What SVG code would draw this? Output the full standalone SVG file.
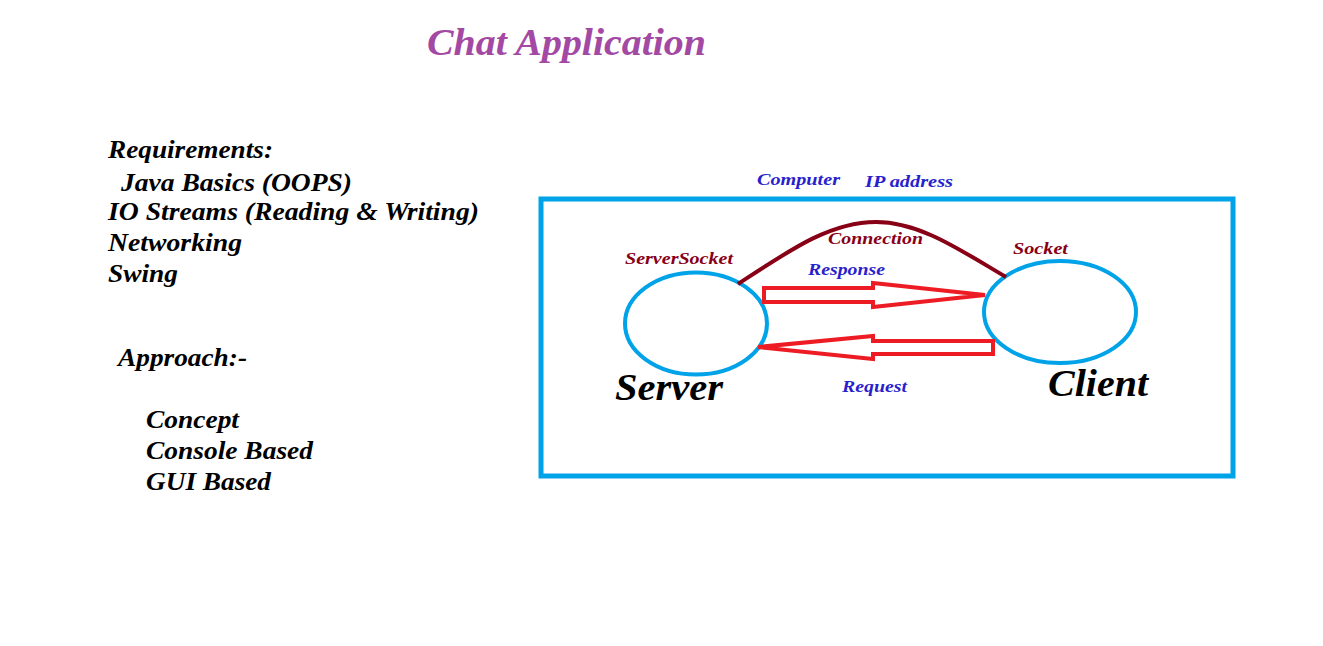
<svg xmlns="http://www.w3.org/2000/svg" width="1323" height="646" viewBox="0 0 1323 646">
<style>
text{font-family:"Liberation Serif","Times New Roman",serif;font-weight:bold;font-style:italic}
.t{fill:#000;font-size:25px}
.big{fill:#000;font-size:38px}
.red{fill:#880015;font-size:17px}
.blue{fill:#2a1fcc;font-size:17px}
.ell{fill:none;stroke:#00a2e8;stroke-width:4}
.arr{fill:none;stroke:#ed1c24;stroke-width:4;stroke-linejoin:miter}
</style>
<rect width="1323" height="646" fill="#fff"/>
<text x="427" y="55" style="fill:#a349a4;font-size:37px" textLength="279" lengthAdjust="spacingAndGlyphs">Chat Application</text>
<g id="requirements">
<text class="t" x="108" y="158" textLength="165" lengthAdjust="spacingAndGlyphs">Requirements:</text>
<text class="t" x="121" y="191" textLength="231" lengthAdjust="spacingAndGlyphs">Java Basics (OOPS)</text>
<text class="t" x="108" y="220" textLength="371" lengthAdjust="spacingAndGlyphs">IO Streams (Reading &amp; Writing)</text>
<text class="t" x="108" y="251" textLength="134" lengthAdjust="spacingAndGlyphs">Networking</text>
<text class="t" x="108" y="282" textLength="70" lengthAdjust="spacingAndGlyphs">Swing</text>
</g>
<g id="approach">
<text class="t" x="118" y="366" textLength="129" lengthAdjust="spacingAndGlyphs">Approach:-</text>
<text class="t" x="146" y="428" textLength="93" lengthAdjust="spacingAndGlyphs">Concept</text>
<text class="t" x="146" y="459" textLength="167" lengthAdjust="spacingAndGlyphs">Console Based</text>
<text class="t" x="146" y="490" textLength="125" lengthAdjust="spacingAndGlyphs">GUI Based</text>
</g>
<g id="computer">
<rect x="541" y="199" width="692" height="277" fill="none" stroke="#00a2e8" stroke-width="5"/>
<text class="blue" x="757" y="185" textLength="83" lengthAdjust="spacingAndGlyphs">Computer</text>
<text class="blue" x="865" y="187" textLength="88" lengthAdjust="spacingAndGlyphs">IP address</text>
</g>
<g id="server">
<ellipse class="ell" cx="696" cy="323.5" rx="71" ry="51"/>
<text class="red" x="625" y="264" textLength="108" lengthAdjust="spacingAndGlyphs">ServerSocket</text>
<text class="big" x="615" y="400" textLength="108" lengthAdjust="spacingAndGlyphs">Server</text>
</g>
<g id="client">
<ellipse class="ell" cx="1060" cy="312" rx="76" ry="51"/>
<text class="red" x="1013" y="254" textLength="55" lengthAdjust="spacingAndGlyphs">Socket</text>
<text class="big" x="1048" y="396" textLength="100" lengthAdjust="spacingAndGlyphs">Client</text>
</g>
<g id="connectors">
<path d="M738,284 C790,250 830,222 876,222 C920,222 960,250 1006,277" fill="none" stroke="#880015" stroke-width="4"/>
<text class="red" x="828" y="244" textLength="95" lengthAdjust="spacingAndGlyphs">Connection</text>
<polygon class="arr" points="764,288 873,288 873,283 985,295 873,307 873,302 764,302"/>
<text class="blue" x="808" y="275" textLength="77" lengthAdjust="spacingAndGlyphs">Response</text>
<polygon class="arr" points="993,341 873,341 873,336 758,347 873,359 873,354 993,354"/>
<text class="blue" x="842" y="392" textLength="65" lengthAdjust="spacingAndGlyphs">Request</text>
</g>
</svg>
